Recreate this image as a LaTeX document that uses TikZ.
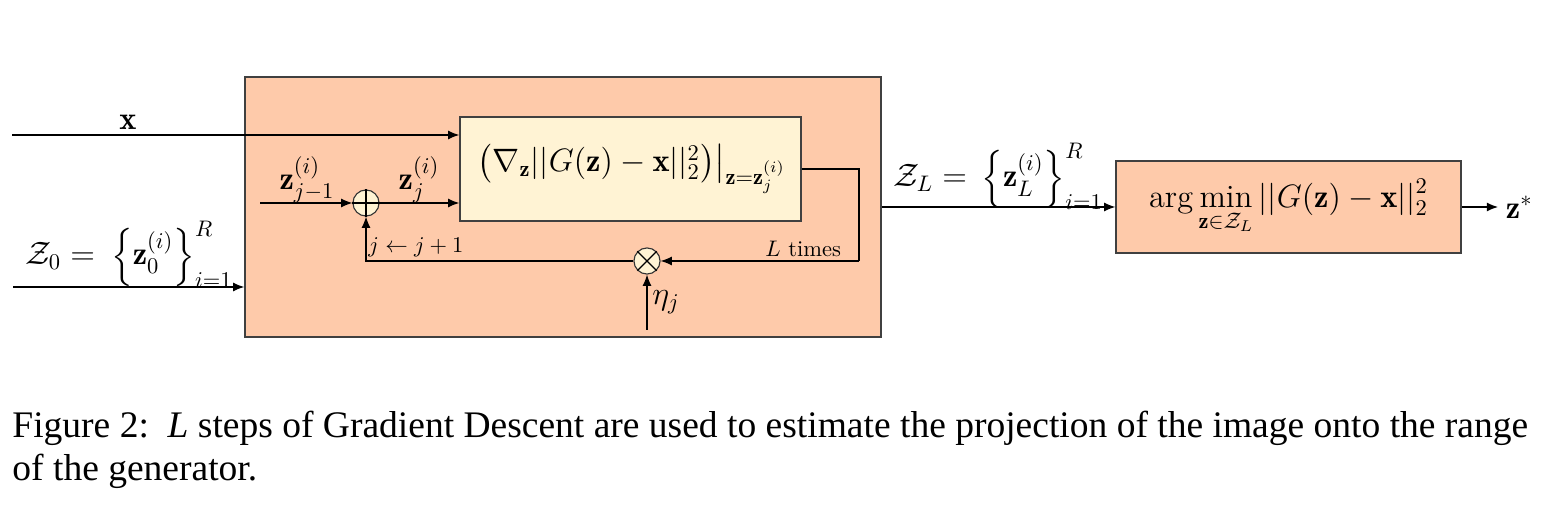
\documentclass[tikz,border=0pt]{standalone}
\usepackage{amsmath,amssymb}
\usepackage{fontspec}
\newfontfamily\capfont{Liberation Serif}
\usetikzlibrary{arrows.meta}

\definecolor{peach}{RGB}{254,202,170}
\definecolor{cream}{RGB}{255,243,212}

\tikzset{
  blockbox/.style = {draw=black!75, line width=0.6pt, inner sep=0pt},
  opcircle/.style = {circle, draw=black!80, fill=cream, line width=0.5pt, inner sep=0pt, minimum size=11.6pt},
  flow/.style = {-{Latex[length=5pt,width=4pt]}, line width=0.5pt},
  lbl/.style = {inner sep=0pt, anchor=base west},
}

\begin{document}
\begin{tikzpicture}[x=0.4444pt, y=-0.4444pt]
    % One unit is one pixel of the sketch, y runs downwards
    \useasboundingbox (0,0) rectangle (1550,506);

    %Drawing the blocks
    \node[blockbox, fill=peach, minimum width=282.7pt, minimum height=115.6pt] (proj) at (563,207) {};
    \node[blockbox, fill=cream, minimum width=151.6pt, minimum height=46.2pt, font=\Large] (grad) at (630.5,169)
        {$\left.\left(\nabla_{\mathbf{z}}||G(\mathbf{z})-\mathbf{x}||_2^2\right)\right|_{\mathbf{z}=\mathbf{z}_j^{(i)}}$};
    \node[blockbox, fill=peach, minimum width=153.3pt, minimum height=40.9pt, font=\Large] (sel) at (1288.5,207)
        {$\displaystyle\arg\min_{\mathbf{z}\in\mathcal{Z}_L}||G(\mathbf{z})-\mathbf{x}||_2^2$};

    %Sum and product
    \node[opcircle] (plus) at (366,203) {};
    \draw[line width=0.5pt] (plus.north) -- (plus.south) (plus.west) -- (plus.east);
    \node[opcircle] (times) at (647,261) {};
    \draw[line width=0.5pt] (times.north west) -- (times.south east) (times.north east) -- (times.south west);

    %Free ends of the connectors
    \coordinate (xin) at (12,135);
    \coordinate (zin) at (260,203);
    \coordinate (zzero) at (13,287);
    \coordinate (turn) at (859,261);
    \coordinate (etain) at (647,330);
    \node[anchor=west, font=\Large] (zstar) at (1498,207) {$\mathbf{z}^*$};

    %Connectors
    \draw[flow] (xin) -- (xin -| grad.west);
    \draw[flow] (zin) -- (plus);
    \draw[flow] (plus) -- (plus -| grad.west);
    \draw[flow] (zzero) -- (zzero -| proj.west);
    \draw[line width=0.5pt] (grad.east) -| (turn);
    \draw[flow] (turn) -- (times);
    \draw[flow] (times) -| (plus);
    \draw[flow] (etain) -- (times);
    \draw[flow] (proj.east) -- (proj.east -| sel.west);
    \draw[flow] (sel.east) -- (zstar.west);

    %Labels
    \node[lbl, anchor=base, font=\Large] (xlab) at (128,130) {$\mathbf{x}$};
    \node[lbl, anchor=base, font=\Large] (zprev) at (307,190) {$\mathbf{z}_{j-1}^{(i)}$};
    \node[lbl, anchor=base, font=\Large] (zcur) at (419,190) {$\mathbf{z}_j^{(i)}$};
    \node[lbl, font=\Large] (zzerolab) at (25,265) {$\mathcal{Z}_0=\:\Big\{\mathbf{z}_0^{(i)}\Big\}_{i=1}^{R}$};
    \node[lbl] (step) at (368,253) {$j\leftarrow j+1$};
    \node[lbl] (ltimes) at (765,257) {$L$ times};
    \node[lbl, font=\Large] (etalab) at (652,305) {$\eta_j$};
    \node[lbl, font=\Large] (zLlab) at (893,187) {$\mathcal{Z}_L=\,\Big\{\mathbf{z}_L^{(i)}\Big\}_{i=1}^{R}$};

    %Caption
    \node[inner sep=0pt, anchor=north west, align=left, font=\capfont\fontsize{16.67}{19.1}\selectfont] (caption) at (12,411)
        {Figure 2:\enspace\textit{L} steps of Gradient Descent are used to estimate the projection of the image onto the range\\
         of the generator.};
\end{tikzpicture}
\end{document}
